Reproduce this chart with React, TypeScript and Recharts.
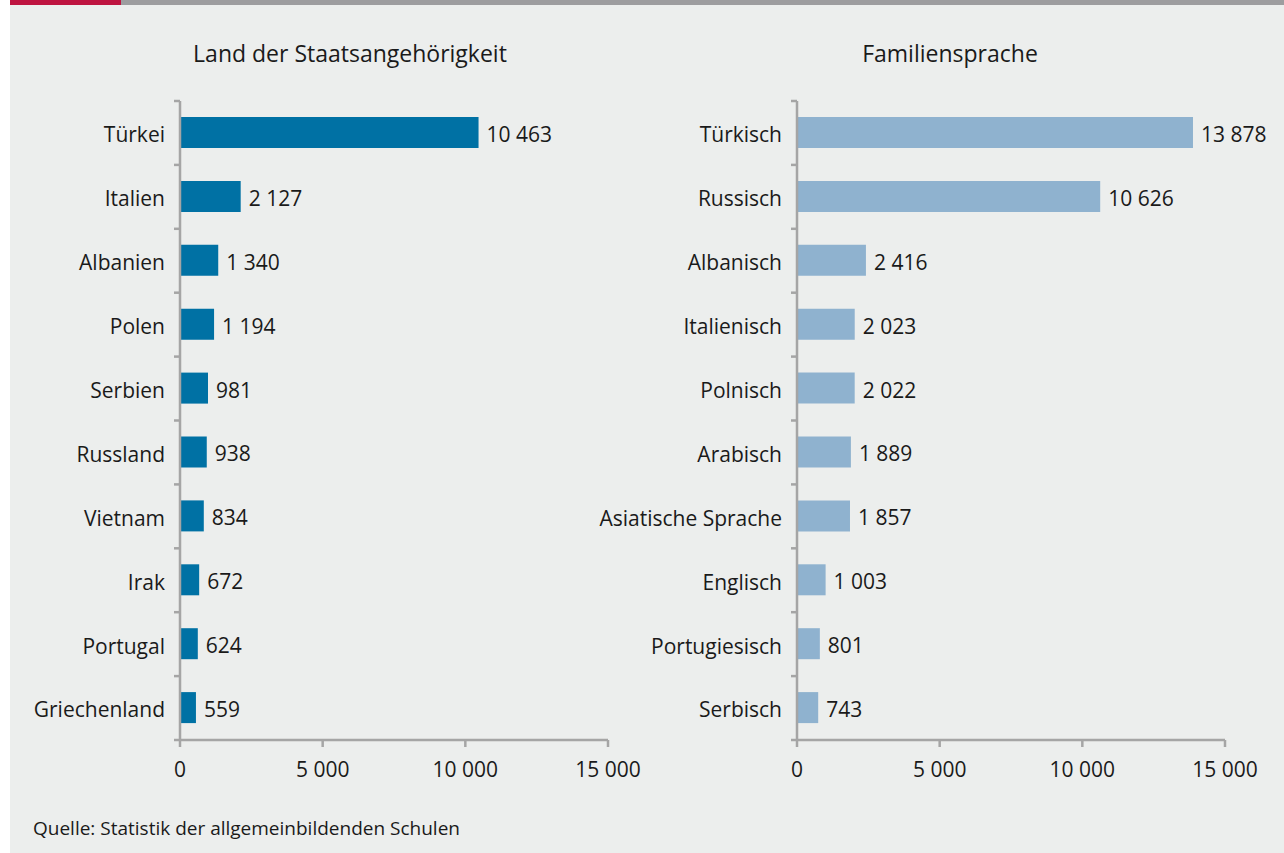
import { BarChart, Bar, XAxis, YAxis, LabelList } from 'recharts';

const countries = ['Türkei', 'Italien', 'Albanien', 'Polen', 'Serbien', 'Russland', 'Vietnam', 'Irak', 'Portugal', 'Griechenland'];
const countryValues = [10463, 2127, 1340, 1194, 981, 938, 834, 672, 624, 559];

const languages = ['Türkisch', 'Russisch', 'Albanisch', 'Italienisch', 'Polnisch', 'Arabisch', 'Asiatische Sprache', 'Englisch', 'Portugiesisch', 'Serbisch'];
const languageValues = [13878, 10626, 2416, 2023, 2022, 1889, 1857, 1003, 801, 743];

const xTicks = [0, 5000, 10000, 15000];

const FONT = '"Open Sans", "Noto Sans", sans-serif';
const AXIS = '#a5a5a5';
const TEXT = '#1a1a1a';
const FS = 21;

const fmt = (v: number) => String(v).replace(/\B(?=(\d{3})+(?!\d))/g, ' ');

const PLOT_TOP = 101;
const PLOT_H = 639;
const HALF_BAND = PLOT_H / 20;

function makeTick(axisX: number, count: number) {
  return (props: any) => {
    const { y, payload, index } = props;
    return (
      <g>
        <line x1={axisX - 6} x2={axisX} y1={y - HALF_BAND} y2={y - HALF_BAND} stroke={AXIS} strokeWidth={2.5} />
        {index === count - 1 && (
          <line x1={axisX - 6} x2={axisX} y1={y + HALF_BAND} y2={y + HALF_BAND} stroke={AXIS} strokeWidth={2.5} />
        )}
        <text x={axisX - 15} y={y + 2} dy="0.35em" textAnchor="end" fontSize={FS} fill={TEXT} fontFamily={FONT}>
          {payload.value}
        </text>
      </g>
    );
  };
}

interface PanelProps {
  labels: string[];
  values: number[];
  color: string;
  left: number;
  yWidth: number;
  rightMargin: number;
  title: string;
  titleX: number;
}

function Panel({ labels, values, color, left, yWidth, rightMargin, title, titleX }: PanelProps) {
  const data = labels.map((name, i) => ({ name, value: values[i] }));
  const width = yWidth + 428 + rightMargin;
  return (
    <div style={{ position: 'absolute', left, top: 0 }}>
      <div
        style={{
          position: 'absolute',
          left: titleX - left - 250,
          width: 500,
          top: 37,
          textAlign: 'center',
          fontSize: 23,
          color: TEXT,
          fontFamily: FONT,
        }}
      >
        {title}
      </div>
      <BarChart
        width={width}
        height={800}
        data={data}
        layout="vertical"
        margin={{ top: PLOT_TOP, right: rightMargin, left: 0, bottom: 0 }}
      >
        <XAxis
          type="number"
          domain={[0, 15000]}
          ticks={xTicks}
          tickFormatter={fmt}
          height={60}
          axisLine={{ stroke: AXIS, strokeWidth: 2.5 }}
          tickLine={{ stroke: AXIS, strokeWidth: 2.5 }}
          tickSize={7}
          tickMargin={15}
          tick={{ fontSize: FS, fill: TEXT, fontFamily: FONT }}
          interval={0}
        />
        <YAxis
          type="category"
          dataKey="name"
          width={yWidth}
          axisLine={{ stroke: AXIS, strokeWidth: 2.5 }}
          tickLine={false}
          tick={makeTick(yWidth, labels.length)}
          interval={0}
        />
        <Bar dataKey="value" fill={color} barSize={31} isAnimationActive={false}>
          <LabelList
            dataKey="value"
            position="right"
            offset={8}
            formatter={(v: any) => fmt(Number(v))}
            style={{ fontSize: FS, fill: TEXT, fontFamily: FONT, transform: 'translateY(2px)' }}
          />
        </Bar>
      </BarChart>
    </div>
  );
}

export default function App() {
  return (
    <div style={{ position: 'absolute', left: 0, top: 0, width: 1284, height: 853, background: '#ffffff', overflow: 'hidden' }}>
      <div style={{ position: 'absolute', left: 10, top: 0, right: 0, bottom: 0, background: '#eceeed' }} />
      <div style={{ position: 'absolute', left: 10, top: 0, width: 111, height: 5, background: '#be1440' }} />
      <div style={{ position: 'absolute', left: 121, top: 0, right: 0, height: 5, background: '#9d9d9f' }} />
      <Panel
        labels={countries}
        values={countryValues}
        color="#0071a4"
        left={10}
        yWidth={170}
        rightMargin={62}
        title="Land der Staatsangehörigkeit"
        titleX={350}
      />
      <Panel
        labels={languages}
        values={languageValues}
        color="#8fb2cf"
        left={570}
        yWidth={227}
        rightMargin={59}
        title="Familiensprache"
        titleX={950}
      />
      <div style={{ position: 'absolute', left: 33, top: 815, fontSize: 19, color: TEXT, fontFamily: FONT }}>
        Quelle: Statistik der allgemeinbildenden Schulen
      </div>
    </div>
  );
}
